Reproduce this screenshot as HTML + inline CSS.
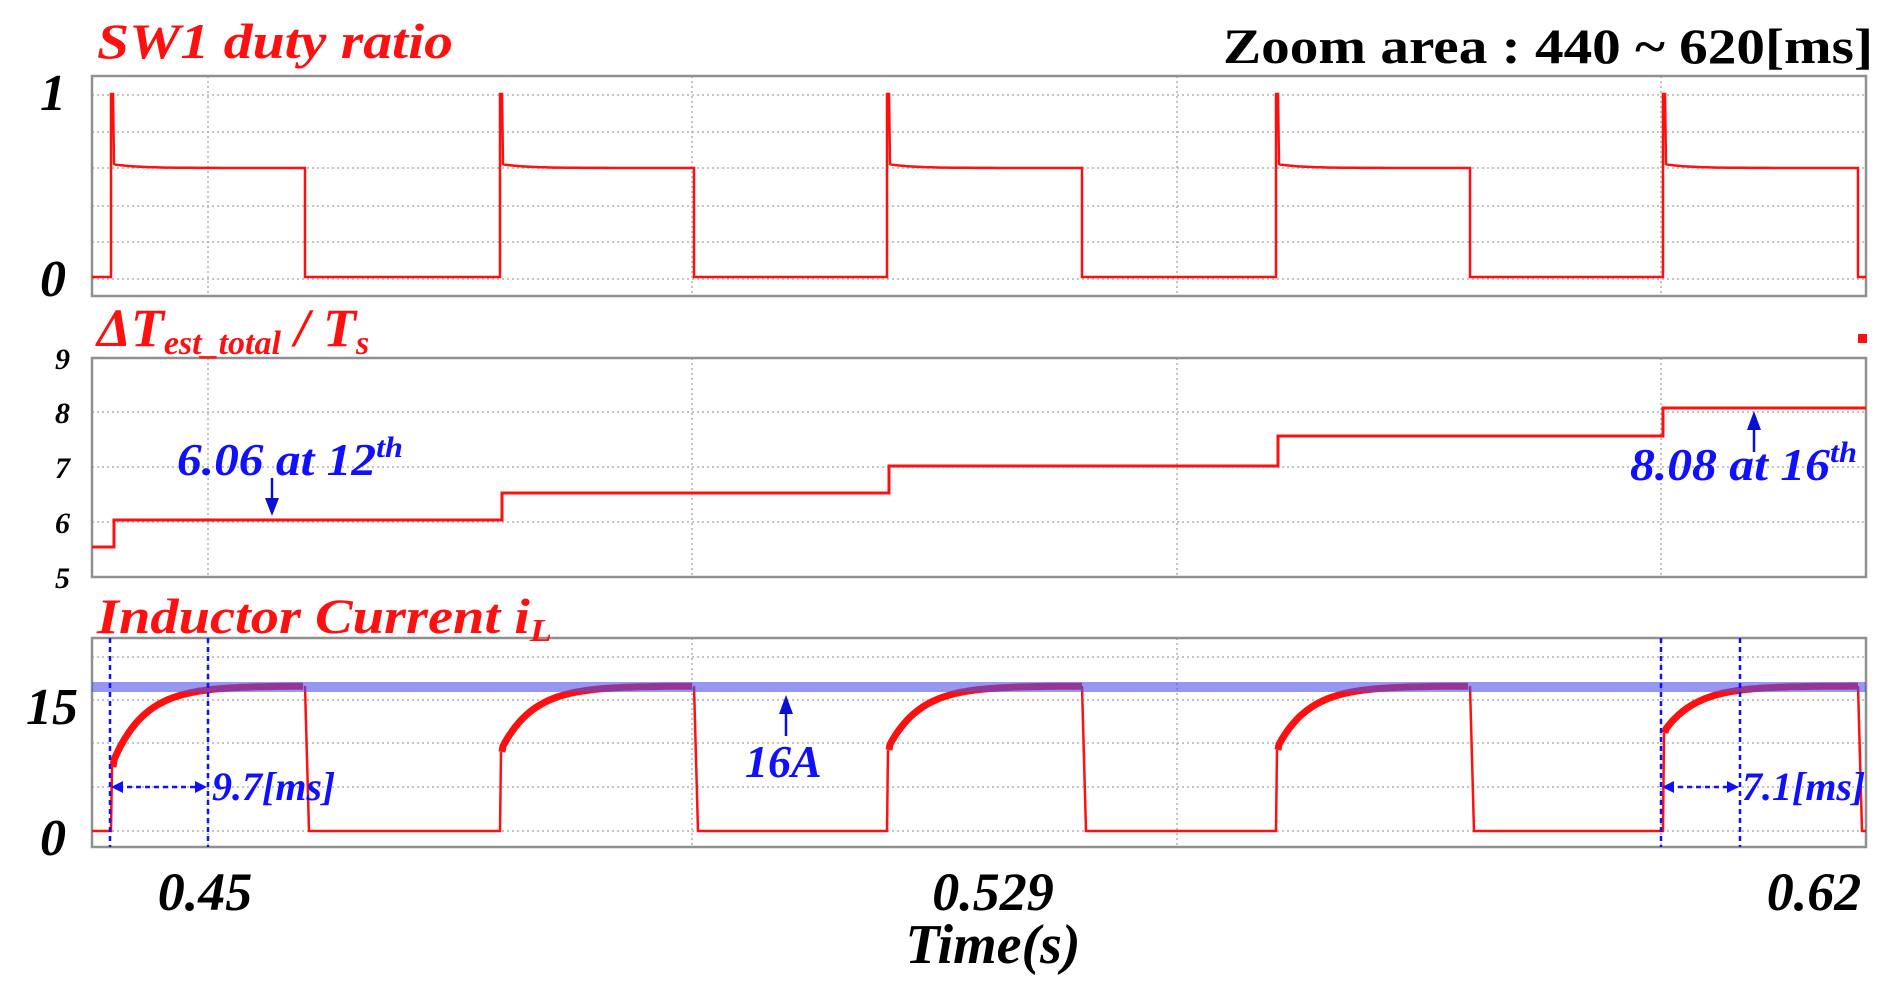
<!DOCTYPE html>
<html><head><meta charset="utf-8"><style>
html,body{margin:0;padding:0;background:#fff;}
svg{display:block;}
text{font-family:"Liberation Serif",serif;font-weight:bold;}
</style></head><body>
<svg id="s" width="1893" height="1003" viewBox="0 0 1893 1003" xmlns="http://www.w3.org/2000/svg">
<g id="grid" stroke="#b0b0b0" stroke-width="1.5" stroke-dasharray="2,3" fill="none"></g>
<g fill="none" stroke="#909090" stroke-width="2.5">
<rect x="92" y="76" width="1774" height="220"/>
<rect x="92" y="358" width="1774" height="219"/>
<rect x="92" y="638" width="1774" height="209"/>
</g>
<path id="duty" fill="none" stroke="#ff1010" stroke-width="2.5"/>
<path id="est" fill="none" stroke="#ff1010" stroke-width="3"/>
<path id="cur" fill="none" stroke="#ff1010" stroke-width="2.5"/>
<path id="curT" fill="none" stroke="#ff1010" stroke-width="7"/>
<rect x="92" y="682" width="1774" height="10" fill="rgba(80,80,235,0.6)"/>
<rect x="1858" y="334" width="9" height="9" fill="#ff1010"/>
<g stroke="#1010ff" stroke-width="2.5" stroke-dasharray="5,4">
<line x1="110" y1="638" x2="110" y2="847"/><line x1="208" y1="638" x2="208" y2="847"/>
<line x1="1661" y1="638" x2="1661" y2="847"/><line x1="1740" y1="638" x2="1740" y2="847"/>
<line x1="118" y1="787" x2="200" y2="787"/><line x1="1669" y1="787" x2="1732" y2="787"/>
</g>
<g fill="#1010ff">
<polygon points="111,787 123,781 123,793"/><polygon points="207,787 195,781 195,793"/>
<polygon points="1662,787 1674,781 1674,793"/><polygon points="1739,787 1727,781 1727,793"/>
</g>
<g stroke="#0a10d0" stroke-width="2.5" fill="#0a10d0">
<line x1="272" y1="478" x2="272" y2="500"/><polygon points="265,498 279,498 272,516" stroke="none"/>
<line x1="1754" y1="452" x2="1754" y2="428"/><polygon points="1747,430 1761,430 1754,411" stroke="none"/>
<line x1="786" y1="736" x2="786" y2="712"/><polygon points="779,714 793,714 786,695" stroke="none"/>
</g>
<text x="97" y="58" font-size="50" font-style="italic" fill="#ff1010" textLength="356" lengthAdjust="spacingAndGlyphs">SW1 duty ratio</text>
<text x="1223" y="63" font-size="50" fill="#000" textLength="650" lengthAdjust="spacingAndGlyphs">Zoom area : 440 ~ 620[ms]</text>
<text x="97" y="346" font-size="54" font-style="italic" fill="#ff1010">ΔT<tspan font-size="34" dy="8">est_total</tspan><tspan dy="-8"> / T</tspan><tspan font-size="34" dy="8">s</tspan></text>
<text x="97" y="633" font-size="50" font-style="italic" fill="#ff1010" textLength="455" lengthAdjust="spacingAndGlyphs">Inductor Current i<tspan font-size="32" dy="8">L</tspan></text>
<g font-style="italic" fill="#000">
<text x="40" y="110" font-size="52">1</text>
<text x="40" y="296" font-size="52">0</text>
<text x="55" y="369" font-size="30">9</text>
<text x="55" y="423" font-size="30">8</text>
<text x="55" y="478" font-size="30">7</text>
<text x="55" y="533" font-size="30">6</text>
<text x="55" y="588" font-size="30">5</text>
<text x="26" y="724" font-size="52">15</text>
<text x="40" y="855" font-size="52">0</text>
<text x="205" y="910" font-size="54" text-anchor="middle">0.45</text>
<text x="993" y="910" font-size="54" text-anchor="middle">0.529</text>
<text x="1814" y="910" font-size="54" text-anchor="middle">0.62</text>
<text x="993" y="963" font-size="56" text-anchor="middle">Time(s)</text>
</g>
<g font-style="italic" fill="#1010ff">
<text x="177" y="475" font-size="46" textLength="226" lengthAdjust="spacingAndGlyphs">6.06 at 12<tspan font-size="30" dy="-18">th</tspan></text>
<text x="1630" y="480" font-size="46" textLength="227" lengthAdjust="spacingAndGlyphs">8.08 at 16<tspan font-size="30" dy="-18">th</tspan></text>
<text x="745" y="777" font-size="46">16A</text>
<text x="212" y="800" font-size="40">9.7[ms]</text>
<text x="1742" y="800" font-size="40">7.1[ms]</text>
</g>
</svg>
<script>
(function(){
var NS="http://www.w3.org/2000/svg",g=document.getElementById('grid');
function ln(x1,y1,x2,y2){var l=document.createElementNS(NS,'line');l.setAttribute('x1',x1);l.setAttribute('y1',y1);l.setAttribute('x2',x2);l.setAttribute('y2',y2);g.appendChild(l);}
[95,132,168,206,242,279].forEach(function(y){ln(92,y,1866,y);});
[412,467,522].forEach(function(y){ln(92,y,1866,y);});
[657,700,743,787,831].forEach(function(y){ln(92,y,1866,y);});
[208,692,1177,1661].forEach(function(x){ln(x,76,x,296);ln(x,358,x,577);ln(x,638,x,847);});
var R=[111,500,887,1276,1663],F=[305,694,1082,1470,1858],J=[767,752,750,750,733];
var d="M92,277";
R.forEach(function(r,i){d+=" L"+r+",277 L"+r+",94 L"+(r+2)+",94 L"+(r+3)+",164";
 for(var x=r+5;x<=F[i];x+=5){d+=" L"+x+","+(168-4*Math.exp(-(x-r)/25)).toFixed(1);}
 d+=" L"+F[i]+",168 L"+F[i]+",277";
 if(i<4) d+=" L"+R[i+1]+",277";});
d+=" L1866,277";
document.getElementById('duty').setAttribute('d',d);
var e="M92,547 L114,547 L114,520 L502,520 L502,493 L889,493 L889,466 L1278,466 L1278,436 L1663,436 L1663,408 L1866,408";
document.getElementById('est').setAttribute('d',e);
var c="M92,831",t="";
R.forEach(function(r,i){c+=" L"+r+",831 L"+(r+1)+","+J[i];
 t+=" M"+(r+2)+","+J[i];
 for(var x=r+3;x<=F[i];x+=3){t+=" L"+x+","+(686+(J[i]-686)*Math.exp(-(x-r)/32)).toFixed(1);}
 c+=" M"+F[i]+",686 L"+(F[i]+4)+",831";
 if(i<4) c+=" L"+R[i+1]+",831";});
c+=" L1866,831";
document.getElementById('cur').setAttribute('d',c);
document.getElementById('curT').setAttribute('d',t);
})();
</script>
</body></html>
